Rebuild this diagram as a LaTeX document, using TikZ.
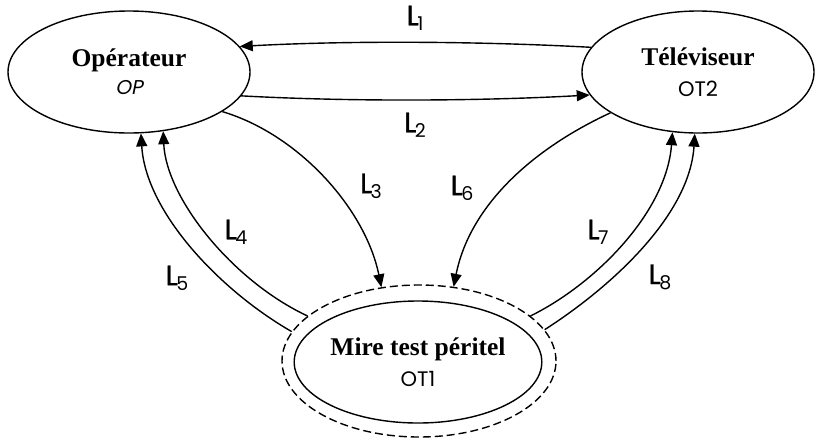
\documentclass[tikz,border=0pt]{standalone}
\usepackage{fontspec}
\setmainfont{Liberation Serif}
\newfontfamily\labfont{Poppins}[FakeBold=1.2]
\newfontfamily\subfont{Poppins}
\newfontfamily\labitfont{Poppins}[FakeSlant=0.2]
\usetikzlibrary{shapes.geometric,arrows.meta}
\newcommand{\Lsub}[1]{{\labfont\fontsize{28}{28}\selectfont L\kern-1.5pt\raisebox{-5pt}{\subfont\fontsize{19}{19}\selectfont #1}}}
\begin{document}
\begin{tikzpicture}[x=1pt,y=-1pt,
  ell/.style={draw, ellipse, line width=1.4pt, inner sep=0pt, align=center,
    font=\fontsize{25.5}{31}\selectfont},
  conn/.style={draw, line width=1.4pt, -{Triangle[length=13pt,width=11pt]}},
  lbl/.style={inner sep=0pt}]
\useasboundingbox (0,0) rectangle (816,440);
\node[ell, minimum width=242pt, minimum height=122pt] (op) at (129,72)
  {\textbf{Opérateur}\\[-3pt]{\labitfont\fontsize{20}{20}\selectfont OP}};
\node[ell, minimum width=232pt, minimum height=122pt] (ot2) at (698,72)
  {\textbf{Téléviseur}\\{\subfont\fontsize{21}{21}\selectfont OT2}};
\node[ell, dash pattern=on 8pt off 4pt, minimum width=274pt, minimum height=152pt] (mireout) at (419,361) {};
\node[ell, minimum width=244pt, minimum height=122pt] (mire) at (418,362)
  {\textbf{Mire test péritel}\\{\subfont\fontsize{21}{21}\selectfont OT1}};
\draw[conn] (ot2.167) .. controls +(-110,-6) and +(110,-6) .. (op.13);
\draw[conn] (op.-12) .. controls +(110,6) and +(-110,6) .. (ot2.-168);
\draw[conn] (op.-23) .. controls +(77,23) and +(-16,-78) .. (mireout.117);
\draw[conn] (ot2.-155) .. controls +(-80,37) and +(16,-80) .. (mireout.65);
\draw[conn] (mireout.158) .. controls +(-75,-35) and +(3,67) .. (op.-60);
\draw[conn] (mireout.167) .. controls +(-70,-40) and +(5,80) .. (op.-79);
\draw[conn] (mireout.22) .. controls +(65,-32) and +(-6,80) .. (ot2.-113);
\draw[conn] (mireout.14) .. controls +(70,-45) and +(-5,80) .. (ot2.-93);
\node[lbl] (l1) at (415,18) {\Lsub{1}};
\node[lbl] (l2) at (415,125) {\Lsub{2}};
\node[lbl] (l3) at (371,186) {\Lsub{3}};
\node[lbl] (l4) at (236,232) {\Lsub{4}};
\node[lbl] (l5) at (177,278) {\Lsub{5}};
\node[lbl] (l6) at (462,188) {\Lsub{6}};
\node[lbl] (l7) at (598,232) {\Lsub{7}};
\node[lbl] (l8) at (660,277) {\Lsub{8}};
\end{tikzpicture}
\end{document}
